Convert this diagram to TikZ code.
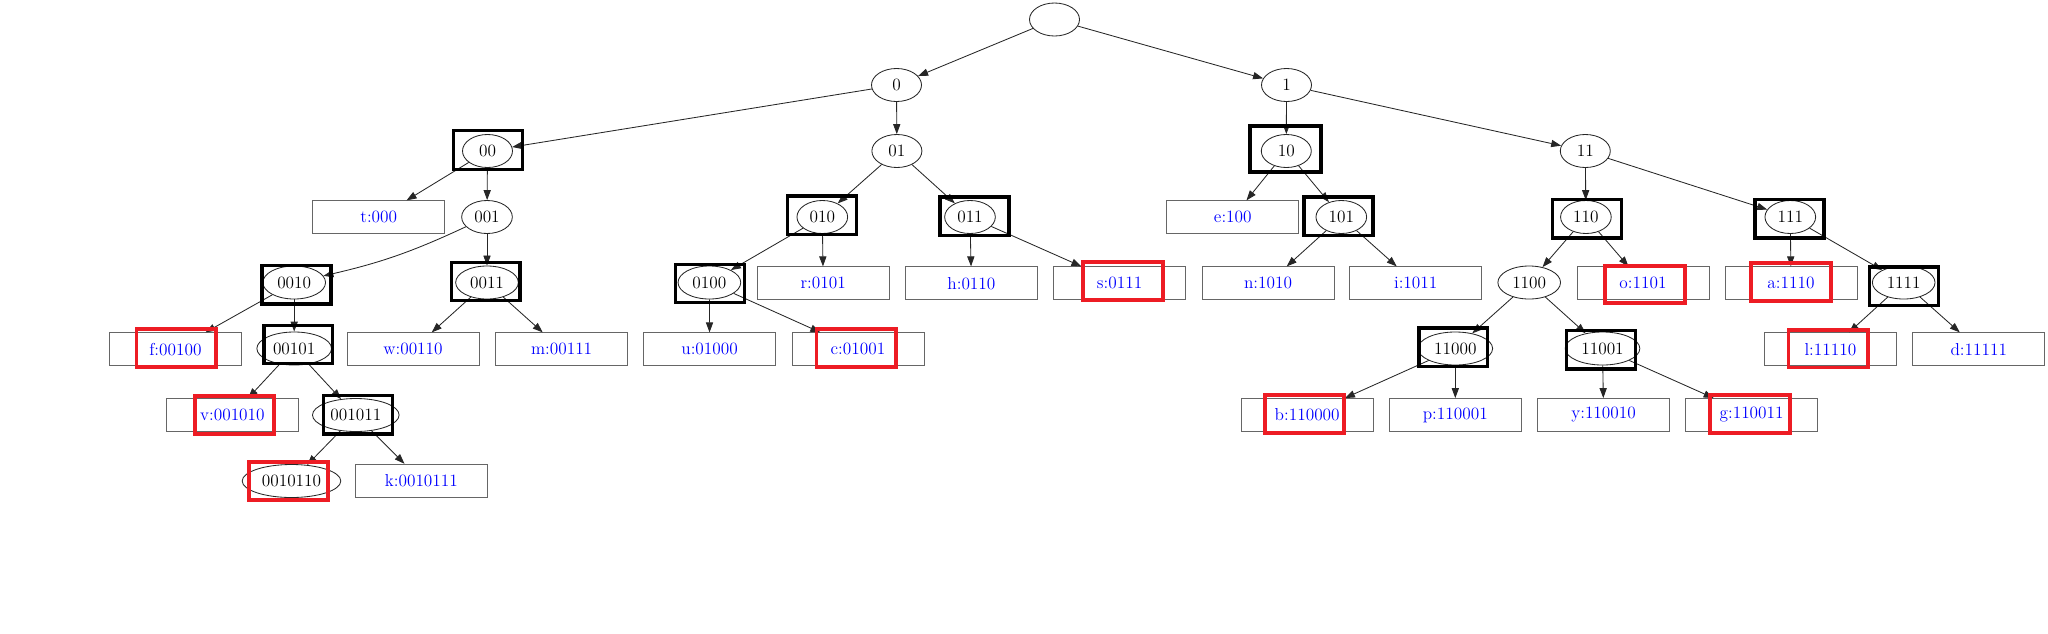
\documentclass[tikz,border=0pt]{standalone}
\usetikzlibrary{arrows.meta,shapes.geometric}
\definecolor{markred}{RGB}{237,28,36}
\definecolor{codeblue}{RGB}{0,0,255}
\newcommand\codefont{\fontsize{12.3}{14}\selectfont}
\tikzset{
  inner/.style={ellipse, draw=black!85, line width=0.6pt, minimum width=1.25cm, minimum height=0.825cm, inner xsep=0.13cm, inner ysep=1pt, font=\codefont},
  leaf/.style={rectangle, draw=black!60, line width=0.6pt, minimum width=3.3cm, minimum height=0.825cm, text=codeblue, font=\codefont},
  link/.style={draw=black!85, line width=0.6pt, -{Triangle[length=0.25cm,width=0.18cm]}},
  visited/.style={rectangle, draw=black, line width=2.4pt, minimum width=1.72cm, minimum height=0.96cm},
  found/.style={rectangle, draw=markred, line width=2.8pt, minimum width=1.99cm, minimum height=0.94cm},
}
\begin{document}
\begin{tikzpicture}[x=0.025cm, y=-0.025cm]
    \useasboundingbox (0,0) rectangle (2048,633);
    % inner nodes of the code tree
    \node[inner] (rt) at (1054.5,19.5) {};
    \node[inner] (n0) at (896.5,85) {0};
    \node[inner] (n1) at (1286.5,85) {1};
    \node[inner] (n00) at (487.5,151) {00};
    \node[inner] (n01) at (896.9,151) {01};
    \node[inner] (n10) at (1286.3,151) {10};
    \node[inner] (n11) at (1585.3,151) {11};
    \node[inner] (n001) at (487,217) {001};
    \node[inner] (n010) at (822.3,217) {010};
    \node[inner] (n011) at (970,217) {011};
    \node[inner] (n101) at (1341.3,217) {101};
    \node[inner] (n110) at (1585.9,217) {110};
    \node[inner] (n111) at (1790.3,217) {111};
    \node[inner] (n0010) at (294.2,282.5) {0010};
    \node[inner] (n0011) at (487,282.5) {0011};
    \node[inner] (n0100) at (709.4,282.5) {0100};
    \node[inner] (n1100) at (1529.2,282.5) {1100};
    \node[inner] (n1111) at (1903.7,282.5) {1111};
    \node[inner] (n00101) at (294.2,348.5) {00101};
    \node[inner] (n11000) at (1455.3,348.5) {11000};
    \node[inner] (n11001) at (1602.5,348.5) {11001};
    \node[inner] (n001011) at (355.8,415) {001011};
    \node[inner] (n0010110) at (291.5,481) {0010110};
    % leaves with their codes
    \node[leaf] (lt) at (378.8,217.3) {t:000};
    \node[leaf] (le) at (1232.8,217.3) {e:100};
    \node[leaf] (lr) at (823.2,283.3) {r:0101};
    \node[leaf] (lh) at (971.4,283.3) {h:0110};
    \node[leaf] (ls) at (1119.6,283.3) {s:0111};
    \node[leaf] (ln) at (1268,283.3) {n:1010};
    \node[leaf] (li) at (1415.7,283.3) {i:1011};
    \node[leaf] (lo) at (1643,283.3) {o:1101};
    \node[leaf] (la) at (1791,283.3) {a:1110};
    \node[leaf] (lf) at (175.4,349.3) {f:00100};
    \node[leaf] (lw) at (413,349.3) {w:00110};
    \node[leaf] (lm) at (561.6,349.3) {m:00111};
    \node[leaf] (lu) at (709.6,349.3) {u:01000};
    \node[leaf] (lc) at (858,349.3) {c:01001};
    \node[leaf] (ll) at (1830.4,349.3) {l:11110};
    \node[leaf] (ld) at (1978.8,349.3) {d:11111};
    \node[leaf] (lv) at (232.4,415) {v:001010};
    \node[leaf] (lb) at (1307.2,415) {b:110000};
    \node[leaf] (lp) at (1455.3,415) {p:110001};
    \node[leaf] (ly) at (1603.6,415) {y:110010};
    \node[leaf] (lg) at (1751.6,415) {g:110011};
    \node[leaf] (lk) at (421.4,480.7) {k:0010111};
    % edges
    \foreach \a/\b in {rt/n0, rt/n1, n0/n00, n0/n01, n1/n10, n1/n11,
        n00/lt, n00/n001, n01/n010, n01/n011, n10/le, n10/n101, n11/n110, n11/n111,
        n001/n0011, n010/n0100, n010/lr, n011/lh, n011/ls,
        n101/ln, n101/li, n110/n1100, n110/lo, n111/la, n111/n1111,
        n0010/lf, n0010/n00101, n0011/lw, n0011/lm, n0100/lu, n0100/lc,
        n1100/n11000, n1100/n11001, n1111/ll, n1111/ld,
        n00101/lv, n00101/n001011, n11000/lb, n11000/lp, n11001/ly, n11001/lg,
        n001011/n0010110, n001011/lk}
        \draw[link] (\a) -- (\b);
    \draw[link] (n001) to[bend left=6] (n0010);
    % thick marks on top
    \node[visited] (v00) at (487.9,150) {};
    \node[visited] (v0010) at (296.5,284.9) {};
    \node[visited] (v0011) at (485.7,281.5) {};
    \node[visited] (v00101) at (298.4,344.5) {};
    \node[visited] (v001011) at (358,414.9) {};
    \node[visited] (v010) at (821.9,215.2) {};
    \node[visited] (v011) at (974.4,216.2) {};
    \node[visited] (v0100) at (710,283.4) {};
    \node[visited, minimum width=1.77cm, minimum height=1.15cm] (v10) at (1285.5,149) {};
    \node[visited] (v101) at (1338.4,216.2) {};
    \node[visited] (v110) at (1587,218.8) {};
    \node[visited] (v111) at (1789.4,218.8) {};
    \node[visited] (v1111) at (1904,286.3) {};
    \node[visited] (v11000) at (1453.3,347.2) {};
    \node[visited] (v11001) at (1601.2,349.8) {};
    \node[found] (ff) at (176.3,348.2) {};
    \node[found] (fv) at (234.4,414.9) {};
    \node[found] (f0010110) at (288.4,481) {};
    \node[found] (fs) at (1123.2,280.8) {};
    \node[found] (fc) at (856.3,348) {};
    \node[found] (fo) at (1645.1,284.5) {};
    \node[found] (fa) at (1790.9,281.9) {};
    \node[found] (fl) at (1828.3,348.7) {};
    \node[found] (fb) at (1304.5,414) {};
    \node[found] (fg) at (1750.2,414) {};
\end{tikzpicture}
\end{document}
